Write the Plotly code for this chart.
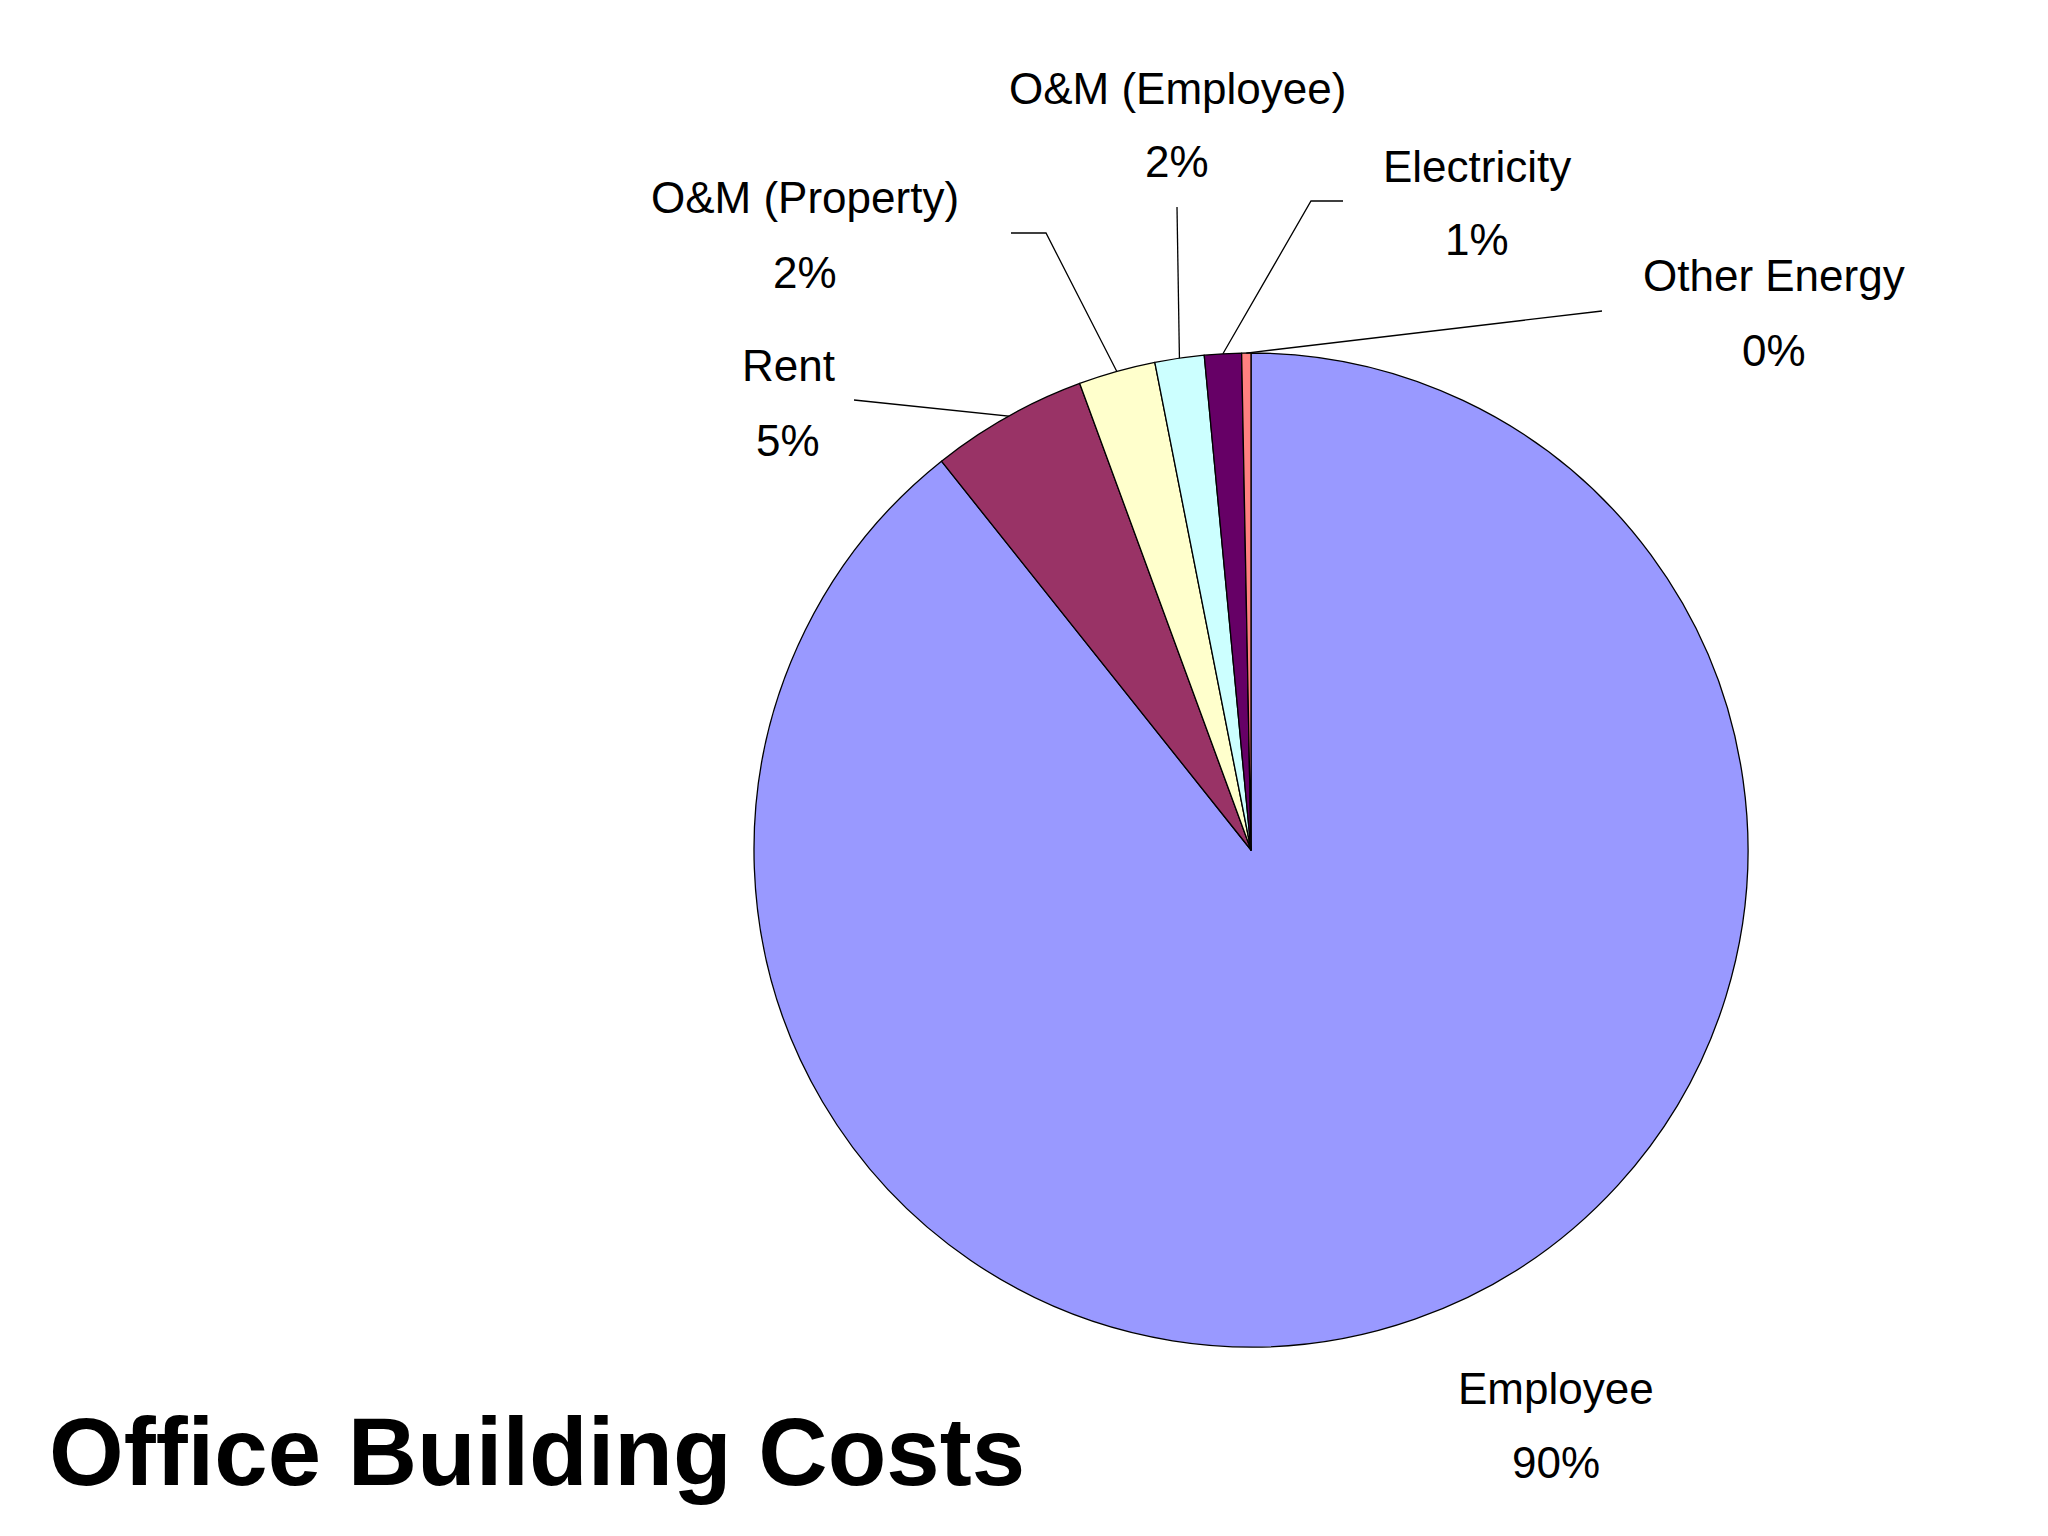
import numpy as np
import plotly.graph_objects as go

labels = ["Employee", "Rent", "O&M (Property)", "O&M (Employee)", "Electricity", "Other Energy"]
values = [89.3, 5.1, 2.5, 1.6, 1.2, 0.3]
pct_text = ["90%", "5%", "2%", "2%", "1%", "0%"]
colors = ["#9999FF", "#993366", "#FFFFCC", "#CCFFFF", "#660066", "#FF8080"]

W, H = 2048, 1536
cx, cy, r = 1243, 842, 497

# label text positions (pixels) and leader-line start/elbow points
label_pos = {
    "Employee": (1548, 1380),
    "Rent": (780, 358),
    "O&M (Property)": (797, 190),
    "O&M (Employee)": (1169, 80),
    "Electricity": (1469, 158),
    "Other Energy": (1766, 268),
}
leaders = {
    "Rent": [(846, 392), (1000, 408)],
    "O&M (Property)": [(1003, 225), (1038, 225)],
    "O&M (Employee)": [(1169, 199)],
    "Electricity": [(1335, 193), (1303, 193)],
    "Other Energy": [(1594, 303)],
}

fig = go.Figure(go.Pie(
    labels=labels, values=values, sort=False, direction="clockwise", rotation=0,
    marker=dict(colors=colors, line=dict(color="black", width=1.3)),
    textinfo="none", showlegend=False, hoverinfo="label+percent",
    domain=dict(x=[(cx - r) / W, (cx + r) / W], y=[1 - (cy + r) / H, 1 - (cy - r) / H]),
))

def px(x, y):
    return x / W, 1 - y / H

total = sum(values)
cum = 0
annotations = []
shapes = []
for lab, v, t in zip(labels, values, pct_text):
    mid = (cum + v / 2) / total
    cum += v
    th = 2 * np.pi * mid
    rim = (cx + r * np.sin(th), cy - r * np.cos(th))
    lx, ly = label_pos[lab]
    for txt, dy in ((lab, 0), (t, 74)):
        x, y = px(lx, ly + dy)
        annotations.append(dict(x=x, y=y, xref="paper", yref="paper", text=txt,
                                showarrow=False, xanchor="center", yanchor="middle",
                                font=dict(family="Liberation Sans, Arial", size=44, color="black")))
    if lab in leaders:
        pts = leaders[lab] + [rim]
        path = "M " + " L ".join(f"{p[0] / W},{1 - p[1] / H}" for p in pts)
        shapes.append(dict(type="path", path=path, xref="paper", yref="paper",
                           line=dict(color="black", width=1.3)))

annotations.append(dict(x=39 / W, y=1 - 1443 / H, xref="paper", yref="paper",
                        text="<b>Office Building Costs</b>", showarrow=False,
                        xanchor="left", yanchor="middle",
                        font=dict(family="Liberation Sans Narrow, Liberation Sans, Arial", size=96, color="black")))

fig.update_layout(width=W, height=H, margin=dict(l=0, r=0, t=0, b=0),
                  paper_bgcolor="white", plot_bgcolor="white",
                  annotations=annotations, shapes=shapes)
fig.write_html("out.html")
